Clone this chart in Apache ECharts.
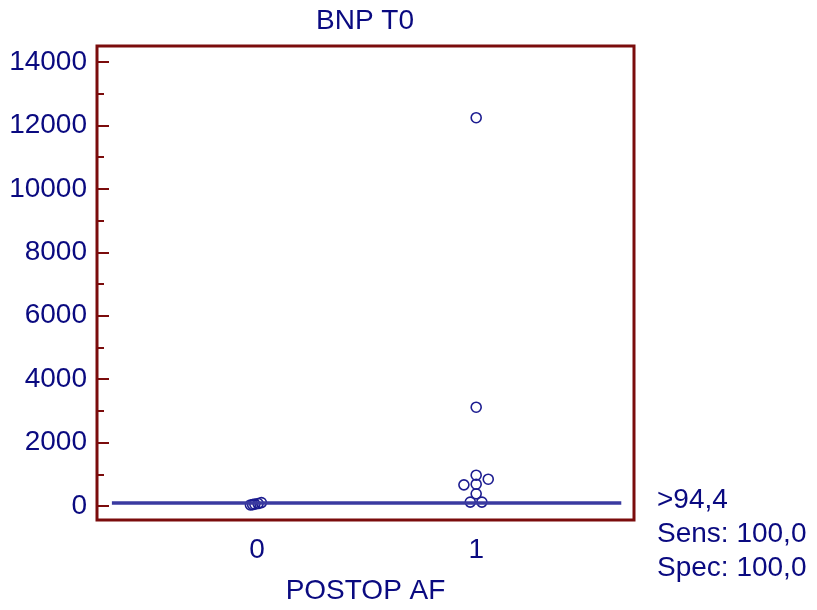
<!DOCTYPE html>
<html>
<head>
<meta charset="utf-8">
<script src="https://cdn.jsdelivr.net/npm/echarts@6/dist/echarts.min.js"></script>
<style>
	html, body { margin: 0; padding: 0; background: #fff; }
	#chart { width: 817px; height: 610px; }
</style>
</head>
<body>
<div id="chart"></div>
<script>
var categories = [0, 1];
var yTicks = [0, 2000, 4000, 6000, 8000, 10000, 12000, 14000];
var yMinorTicks = [1000, 3000, 5000, 7000, 9000, 11000, 13000];
// BNP T0 values per group, with small horizontal jitter
var group0Values = [35, 45, 60, 80, 110];
var group0Jitter = [-0.03, -0.02, -0.01, 0.005, 0.02];
var group1Values = [12242, 3117, 973, 847, 669, 690, 386, 126, 126];
var group1Jitter = [0, 0, 0, 0.055, -0.056, 0, 0, -0.027, 0.026];
var cutoff = 94.4;
var cutoffSpan = [-0.662, 1.662];
var infoLines = ['>94,4', 'Sens: 100,0', 'Spec: 100,0'];

var textColor = '#0a0a80';
var borderColor = '#7b0c0c';
var font = 'Liberation Sans, Arial, sans-serif';

function buildPoints(group, values, jitter) {
	var pts = [];
	for (var i = 0; i < values.length; i++) {
		pts.push([group + jitter[i], values[i]]);
	}
	return pts;
}

var myChart = echarts.init(document.getElementById('chart'));

var yBase = {
	type : 'value',
	position : 'left',
	min : -439,
	max : 14502,
	splitLine : { show : false },
	axisLine : { show : false, onZero : false }
};

var option = {
	animation : false,
	title : {
		text : 'BNP T0',
		left : 365,
		top : 7,
		padding : 0,
		textAlign : 'center',
		textStyle : { color : textColor, fontFamily : font, fontSize : 28, fontWeight : 'normal' }
	},
	grid : {
		left : 97,
		top : 46,
		width : 537,
		height : 476,
		show : true,
		borderColor : borderColor,
		borderWidth : 3,
		backgroundColor : 'transparent'
	},
	xAxis : {
		type : 'value',
		min : -0.73,
		max : 1.72,
		name : 'POSTOP AF',
		nameLocation : 'middle',
		nameGap : 57,
		nameTextStyle : { color : textColor, fontFamily : font, fontSize : 28 },
		splitLine : { show : false },
		axisLine : { show : false, onZero : false },
		axisTick : { show : false },
		axisLabel : {
			customValues : categories,
			color : textColor,
			fontFamily : font,
			fontSize : 28,
			margin : 16
		}
	},
	yAxis : [
		echarts.util.merge({
			axisTick : { inside : true, length : 12, customValues : yTicks, lineStyle : { color : borderColor, width : 2 } },
			axisLabel : {
				customValues : yTicks, color : textColor, fontFamily : font, fontSize : 28, margin : 10,
				formatter : function(v) { return String(v); }
			}
		}, yBase),
		echarts.util.merge({
			axisTick : { inside : true, length : 7, customValues : yMinorTicks, lineStyle : { color : borderColor, width : 2 } },
			axisLabel : { show : false }
		}, yBase)
	],
	series : [ {
		type : 'line',
		data : [ [cutoffSpan[0], cutoff], [cutoffSpan[1], cutoff] ],
		symbol : 'none',
		lineStyle : { color : '#3a3aa0', width : 3.5 },
		silent : true
	}, {
		type : 'scatter',
		data : buildPoints(categories[0], group0Values, group0Jitter)
			.concat(buildPoints(categories[1], group1Values, group1Jitter)),
		symbol : 'circle',
		symbolSize : 10,
		itemStyle : { color : 'rgba(0,0,0,0)', borderColor : '#1c1c90', borderWidth : 1.6, opacity : 1 }
	} ],
	graphic : [ {
		type : 'text',
		left : 657,
		top : 483,
		style : {
			text : infoLines.join('\n'),
			fill : textColor,
			font : '28px ' + font,
			lineHeight : 34
		}
	} ]
};

myChart.setOption(option);
</script>
</body>
</html>
